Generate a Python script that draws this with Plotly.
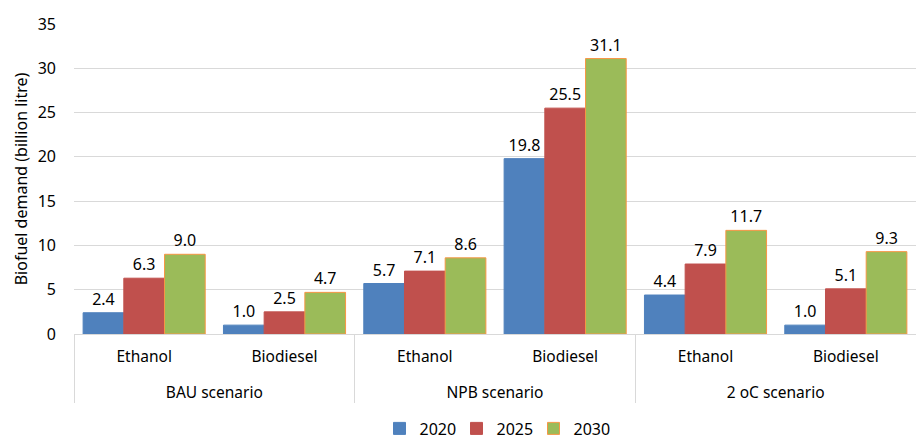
import plotly.graph_objects as go

scenarios = ["BAU scenario", "BAU scenario", "NPB scenario", "NPB scenario", "2 oC scenario", "2 oC scenario"]
fuels = ["Ethanol", "Biodiesel", "Ethanol", "Biodiesel", "Ethanol", "Biodiesel"]
years = ["2020", "2025", "2030"]
v2020 = [2.4, 1.0, 5.7, 19.8, 4.4, 1.0]
v2025 = [6.3, 2.5, 7.1, 25.5, 7.9, 5.1]
v2030 = [9.0, 4.7, 8.6, 31.1, 11.7, 9.3]

colors = ["#4F81BD", "#C0504D", "#9BBB59"]
outlines = ["#4F81BD", "#C0504D", "#F79646"]

# push the scenario row down a line, like the spreadsheet chart
groups = ["<br>" + s for s in scenarios]

fig = go.Figure()
for name, vals, c, o in zip(years, [v2020, v2025, v2030], colors, outlines):
    fig.add_trace(go.Bar(
        x=[groups, fuels], y=vals, name=name,
        marker=dict(color=c, line=dict(color=o, width=1)),
        text=[f"{v:.1f}" for v in vals], textposition="outside",
        constraintext="none",
        textfont=dict(size=16, color="#000000"), cliponaxis=False,
    ))

fig.update_layout(
    width=916, height=441,
    margin=dict(l=74, r=0, t=24, b=107, autoexpand=False),
    paper_bgcolor="white", plot_bgcolor="white",
    font=dict(family="Noto Sans", size=15, color="#000000"),
    barmode="group", bargap=0.13, bargroupgap=0,
    showlegend=True,
    legend=dict(orientation="h", x=0.5, xanchor="center", y=-0.25, yanchor="top",
                font=dict(size=16), traceorder="normal", itemwidth=30,
                entrywidth=32, tracegroupgap=0),
)
fig.update_xaxes(
    type="multicategory", showline=True, linecolor="#D9D9D9", linewidth=1,
    showdividers=True, dividercolor="#D9D9D9", dividerwidth=1,
    tickfont=dict(size=15.5), ticks="", ticklabelstandoff=8,
)
fig.update_yaxes(
    range=[0, 35], dtick=5, showgrid=True, gridcolor="#D9D9D9", zeroline=False,
    tickfont=dict(size=16), ticks="", ticklabelstandoff=17,
    title=dict(text="Biofuel demand (billion litre)", font=dict(size=16), standoff=6),
)

# page has a default body margin; drop it so the figure fills the window
fig.write_html("out.html", config={"displayModeBar": False},
               post_script="document.body.style.margin='0px';")
